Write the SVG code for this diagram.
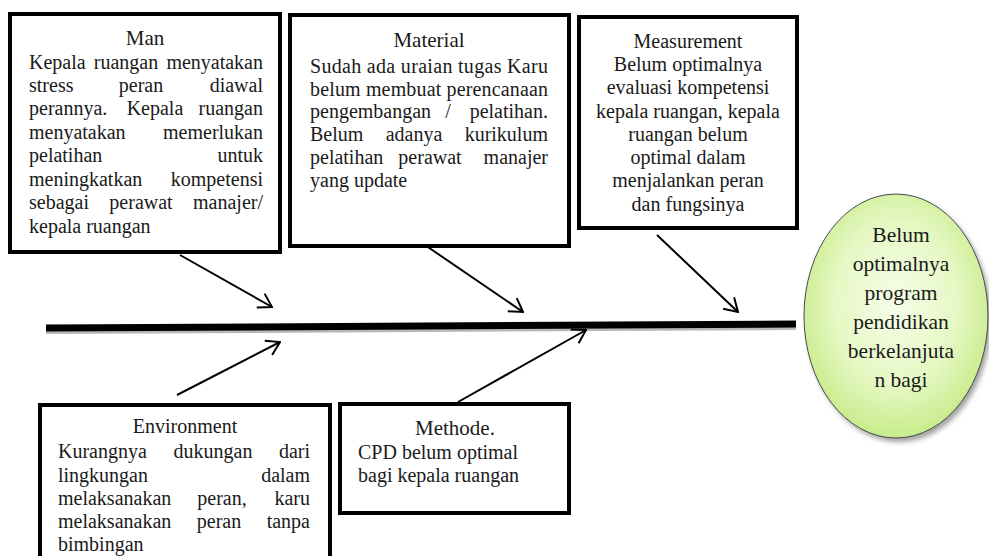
<svg xmlns="http://www.w3.org/2000/svg" width="989" height="556" viewBox="0 0 989 556" font-family="'Liberation Serif', 'DejaVu Serif', serif">
<defs>
<style>
.box{fill:#fff;stroke:#000;stroke-width:4}
.t{font-size:20px;fill:#1a1a1a}
.ti{font-size:21px}
.el{font-size:21.5px}
.c{text-anchor:middle}
.e{text-anchor:end}
.arrow{stroke:#000;stroke-width:2;fill:none;marker-end:url(#ah)}
</style>
<marker id="ah" viewBox="0 0 16 18" refX="15" refY="9" markerWidth="16" markerHeight="18" markerUnits="userSpaceOnUse" orient="auto">
<path d="M2,1 L15,9 L2,17" fill="none" stroke="#000" stroke-width="2"/>
</marker>
<radialGradient id="eg" cx="50%" cy="45%" r="55%">
<stop offset="0" stop-color="#f6fde9"/>
<stop offset="0.6" stop-color="#e6f8c4"/>
<stop offset="1" stop-color="#c8ec8c"/>
</radialGradient>
<filter id="sh" x="-20%" y="-20%" width="140%" height="140%">
<feGaussianBlur stdDeviation="2.5"/>
</filter>
</defs>
<rect width="989" height="556" fill="#fff"/>

<g id="connectors">
<line x1="46" y1="332" x2="796" y2="328" stroke="#b8b8b8" stroke-width="4"/>
<line x1="46" y1="328" x2="796" y2="324" stroke="#000" stroke-width="7"/>
<line class="arrow" x1="180" y1="255" x2="272" y2="307"/>
<line class="arrow" x1="422" y1="243" x2="523" y2="312"/>
<line class="arrow" x1="657" y1="235" x2="738" y2="312"/>
<line class="arrow" x1="177" y1="395" x2="280" y2="342"/>
<line class="arrow" x1="458" y1="402" x2="586" y2="330"/>
</g>

<g id="man" font-family="Liberation Serif">
<rect class="box" x="10" y="14" width="270" height="238"/>
<text class="t ti c" x="145" y="45">Man</text>
<text class="t" y="69"><tspan x="29">Kepala</tspan><tspan class="c" x="126">ruangan</tspan><tspan class="e" x="263">menyatakan</tspan></text>
<text class="t" y="92"><tspan x="29">stress</tspan><tspan class="c" x="141">peran</tspan><tspan class="e" x="263">diawal</tspan></text>
<text class="t" y="115"><tspan x="29">perannya.</tspan><tspan class="c" x="155">Kepala</tspan><tspan class="e" x="263">ruangan</tspan></text>
<text class="t" y="139"><tspan x="29">menyatakan</tspan><tspan class="e" x="263">memerlukan</tspan></text>
<text class="t" y="162"><tspan x="29">pelatihan</tspan><tspan class="e" x="263">untuk</tspan></text>
<text class="t" y="186"><tspan x="29">meningkatkan</tspan><tspan class="e" x="263">kompetensi</tspan></text>
<text class="t" y="209"><tspan x="29">sebagai</tspan><tspan class="c" x="141">perawat</tspan><tspan class="e" x="263">manajer/</tspan></text>
<text class="t" x="29" y="233">kepala ruangan</text>
</g>

<g id="material" font-family="Liberation Serif">
<rect class="box" x="290" y="15" width="279" height="231"/>
<text class="t ti c" x="429" y="47">Material</text>
<text class="t" x="310" y="73" textLength="238" lengthAdjust="spacing">Sudah ada uraian tugas Karu</text>
<text class="t" x="310" y="96" textLength="238" lengthAdjust="spacing">belum membuat perencanaan</text>
<text class="t" y="118"><tspan x="310">pengembangan</tspan><tspan class="c" x="448">/</tspan><tspan class="e" x="548">pelatihan.</tspan></text>
<text class="t" y="141"><tspan x="310">Belum</tspan><tspan class="c" x="414">adanya</tspan><tspan class="e" x="548">kurikulum</tspan></text>
<text class="t" y="164"><tspan x="310">pelatihan</tspan><tspan class="c" x="430">perawat</tspan><tspan class="e" x="548">manajer</tspan></text>
<text class="t" x="310" y="187">yang update</text>
</g>

<g id="measurement" font-family="Liberation Serif">
<rect class="box" x="579" y="17" width="218" height="211"/>
<text class="t c" x="688" y="48">Measurement</text>
<text class="t c" x="688" y="71">Belum optimalnya</text>
<text class="t c" x="688" y="94">evaluasi kompetensi</text>
<text class="t c" x="688" y="118">kepala ruangan, kepala</text>
<text class="t c" x="688" y="141">ruangan belum</text>
<text class="t c" x="688" y="164">optimal dalam</text>
<text class="t c" x="688" y="187">menjalankan peran</text>
<text class="t c" x="688" y="211">dan fungsinya</text>
</g>

<g id="effect" font-family="Liberation Serif">
<ellipse cx="899" cy="320" rx="92" ry="122" fill="#8a8a8a" filter="url(#sh)" opacity="0.8"/>
<ellipse cx="896" cy="316" rx="92" ry="122" fill="url(#eg)" stroke="#4a4a4a" stroke-width="1"/>
<text class="t el c" x="901" y="242">Belum</text>
<text class="t el c" x="901" y="271">optimalnya</text>
<text class="t el c" x="901" y="300">program</text>
<text class="t el c" x="901" y="329">pendidikan</text>
<text class="t el c" x="901" y="358">berkelanjuta</text>
<text class="t el c" x="901" y="387">n bagi</text>
</g>

<g id="environment" font-family="Liberation Serif">
<rect class="box" x="40" y="405" width="290" height="175"/>
<text class="t c" x="185" y="433">Environment</text>
<text class="t" y="458"><tspan x="58">Kurangnya</tspan><tspan class="c" x="213">dukungan</tspan><tspan class="e" x="310">dari</tspan></text>
<text class="t" y="482"><tspan x="58">lingkungan</tspan><tspan class="e" x="310">dalam</tspan></text>
<text class="t" y="505"><tspan x="58">melaksanakan</tspan><tspan class="c" x="222">peran,</tspan><tspan class="e" x="310">karu</tspan></text>
<text class="t" y="528"><tspan x="58">melaksanakan</tspan><tspan class="c" x="219">peran</tspan><tspan class="e" x="310">tanpa</tspan></text>
<text class="t" x="58" y="551">bimbingan</text>
</g>

<g id="methode" font-family="Liberation Serif">
<rect class="box" x="340" y="404" width="229" height="109"/>
<text class="t ti c" x="455" y="435">Methode.</text>
<text class="t" x="358" y="459">CPD belum optimal</text>
<text class="t" x="358" y="482">bagi kepala ruangan</text>
</g>
</svg>
